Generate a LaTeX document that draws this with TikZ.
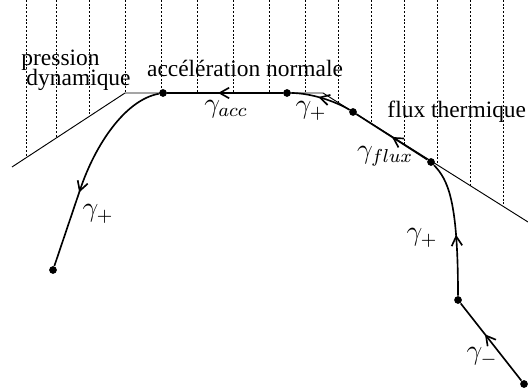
\documentclass[tikz,border=0pt]{standalone}
\usepackage{fontspec}
\setmainfont{Liberation Serif}
\usetikzlibrary{arrows.meta,decorations.markings}

\begin{document}
\begin{tikzpicture}[
  x=0.015cm, y=-0.015cm,
  dot/.style={circle, fill, inner sep=0pt, minimum size=3.3pt},
  lab/.style={inner sep=0pt},
  glab/.style={inner sep=0pt, font=\large},
  bord/.style={line width=0.4pt},
  traj/.style={line width=0.7pt},
  hatch/.style={line width=0.4pt, dash pattern=on 0.8pt off 0.8pt},
  midarrow/.style={postaction={decorate}, decoration={markings,
    mark=at position #1 with {\arrow{Straight Barb[length=4pt,width=4.5pt]}}}}
]
\useasboundingbox (0,0) rectangle (528,391);
% bords de la zone
\coordinate (bl) at (12,167);
\coordinate (bc1) at (125,93);
\coordinate (bc2) at (323,93);
\coordinate (br) at (528,222);
\begin{scope}
  \clip (12,0) -- (bl) -- (bc1) -- (bc2) -- (br) -- (528,0) -- cycle;
  \foreach \x in {26,56,89,125,161,197,233,269,305,338,371,404,437,470,503}
    \draw[hatch] (\x,0) -- (\x,391);
\end{scope}
\draw[bord] (bl) -- (bc1) -- (bc2) -- (br);
% points
\node[dot] (p1) at (53,270) {};
\node[dot] (p2) at (163,93) {};
\node[dot] (p3) at (287,93) {};
\node[dot] (p4) at (353,112) {};
\node[dot] (p5) at (431,162) {};
\node[dot] (p6) at (458,300) {};
\node[dot] (p7) at (524,384) {};
% trajectoire
\draw[traj, midarrow=0.6] (p7) -- (p6);
\draw[traj, midarrow=0.45] (p6) .. controls (458,200) and (448,180) .. (p5);
\draw[traj, midarrow=0.5] (p5) -- (p4);
\draw[traj, midarrow=0.55] (p4) .. controls (335,101) and (310,93) .. (p3);
\draw[traj, midarrow=0.56] (p3) -- (p2);
\draw[traj, midarrow=0.63] (p2) .. controls (125,100) and (95,145) .. (80,190) -- (p1);
% textes
\node[lab, anchor=base west] (lpres) at (21,66) {pression};
\node[lab, anchor=base west] (ldyn) at (26,86) {dynamique};
\node[lab, anchor=base] (lacc) at (245,77) {accélération normale};
\node[lab, anchor=base west] (lflux) at (387,118) {flux thermique};
\node[glab] (gacc) at (226,109) {$\gamma_{acc}$};
\node[glab] (gp1) at (311,111) {$\gamma_+$};
\node[glab] (gflux) at (385,156) {$\gamma_{flux}$};
\node[glab] (gp2) at (422,238) {$\gamma_+$};
\node[glab] (gm) at (482,357) {$\gamma_-$};
\node[glab] (gp3) at (98,214) {$\gamma_+$};
\end{tikzpicture}
\end{document}
